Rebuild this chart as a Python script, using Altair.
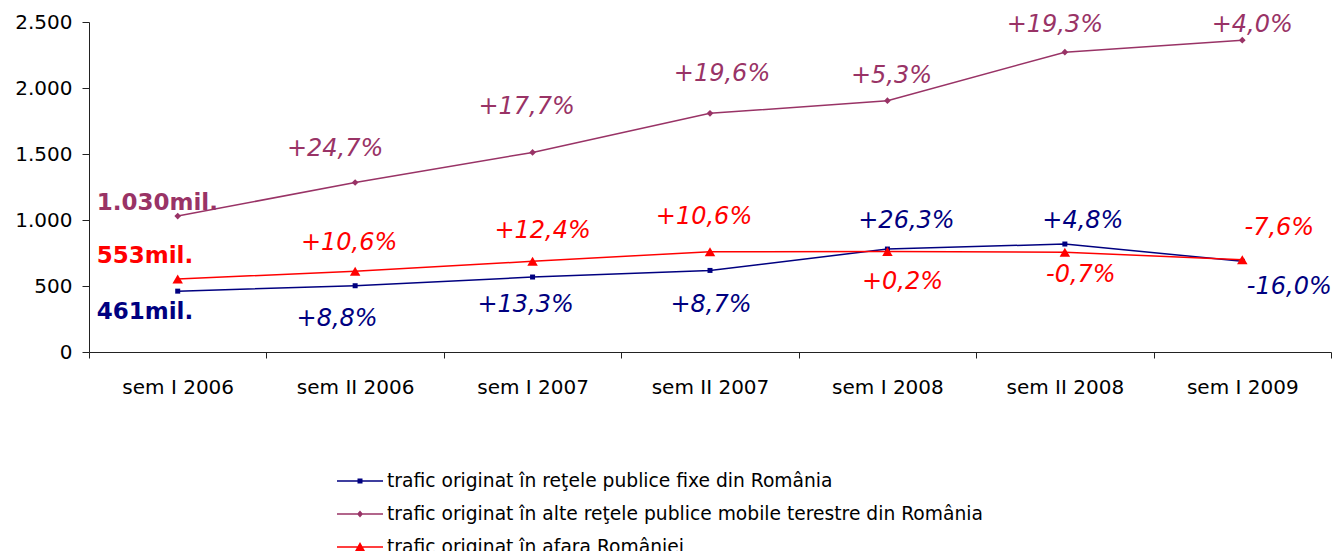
import altair as alt
import pandas as pd

# ---------------- data ----------------
periods = ["sem I 2006", "sem II 2006", "sem I 2007", "sem II 2007",
           "sem I 2008", "sem II 2008", "sem I 2009"]
series_names = [
    "trafic originat în reţele publice fixe din România",
    "trafic originat în alte reţele publice mobile terestre din România",
    "trafic originat în afara României",
]
fixed_values = [461, 502, 568, 618, 780, 818, 687]
mobile_values = [1030, 1284, 1512, 1808, 1904, 2271, 2362]
foreign_values = [553, 612, 687, 760, 761, 756, 699]
fixed_pct = ["", "+8,8%", "+13,3%", "+8,7%", "+26,3%", "+4,8%", "-16,0%"]
mobile_pct = ["", "+24,7%", "+17,7%", "+19,6%", "+5,3%", "+19,3%", "+4,0%"]
foreign_pct = ["", "+10,6%", "+12,4%", "+10,6%", "+0,2%", "-0,7%", "-7,6%"]
start_labels = ["461mil.", "1.030mil.", "553mil."]
y_ticks = [0, 500, 1000, 1500, 2000, 2500]

values_by_series = [fixed_values, mobile_values, foreign_values]
pct_by_series = [fixed_pct, mobile_pct, foreign_pct]

rows = []
for k, name in enumerate(series_names):
    for i, p in enumerate(periods):
        rows.append({"period": p, "series": name, "idx": i,
                     "value": values_by_series[k][i],
                     "pct": pct_by_series[k][i],
                     "start": start_labels[k]})
df = pd.DataFrame(rows)

# ---------------- styles ----------------
FONT = "DejaVu Sans"
COLORS = ["#000080", "#993366", "#FF0000"]
SHAPES = ["square", "diamond", "triangle-up"]
SIZES = [25, 45, 110]
LEGEND_PATHS = [
    "M-2.3,-0.075H2.3V0.075H-2.3Z M-0.25,-0.25H0.25V0.25H-0.25Z",
    "M-2.3,-0.075H2.3V0.075H-2.3Z M0,-0.35L0.3,0L0,0.35L-0.3,0Z",
    "M-2.3,-0.075H2.3V0.075H-2.3Z M0,-0.5L0.5,0.4L-0.5,0.4Z",
]
# pixel offsets (dx, dy) of the growth labels, per series, for idx 1..6
PCT_OFFSETS = [
    [(-18, 33), (-7, 28), (1, 35), (19, -28), (18, -23), (47, 26)],
    [(-20, -34), (-6, -45), (12, -39), (4, -25), (-10, -27), (10, -15)],
    [(-6, -28), (10, -30), (-6, -35), (15, 30), (16, 23), (37, -32)],
]
START_DY = [21, -13, -23]

x_enc = alt.X("period:N", sort=periods,
              scale=alt.Scale(type="band", domain=periods, paddingInner=0, paddingOuter=0),
              axis=alt.Axis(title=None, labelAngle=0, tickBand="extent", tickSize=6,
                            labelPadding=19, labelFontSize=20, labelFont=FONT,
                            labelColor="#000000", domainColor="#222222",
                            tickColor="#222222", grid=False))
y_enc = alt.Y("value:Q",
              scale=alt.Scale(domain=[0, 2500], nice=False),
              axis=alt.Axis(title=None, values=y_ticks,
                            labelExpr="replace(format(datum.value, ','), ',', '.')",
                            tickSize=7, labelPadding=10, labelFontSize=20,
                            labelFont=FONT, labelColor="#000000",
                            domainColor="#222222", tickColor="#222222", grid=False))

base = alt.Chart(df)
layers = []

for k, name in enumerate(series_names):
    layers.append(
        base.transform_filter(alt.datum.series == name)
        .mark_line(color=COLORS[k], strokeWidth=1.5,
                   point=alt.OverlayMarkDef(shape=SHAPES[k], filled=True,
                                            size=SIZES[k], color=COLORS[k], opacity=1))
        .encode(x=x_enc, y=y_enc)
    )

for k, name in enumerate(series_names):
    for i in range(1, len(periods)):
        dx, dy = PCT_OFFSETS[k][i - 1]
        layers.append(
            base.transform_filter((alt.datum.series == name) & (alt.datum.idx == i))
            .mark_text(dx=dx, dy=dy, align="center", baseline="middle",
                       font=FONT, fontSize=24, fontStyle="italic", color=COLORS[k])
            .encode(x=x_enc, y=y_enc, text="pct:N")
        )
    layers.append(
        base.transform_filter((alt.datum.series == name) & (alt.datum.idx == 0))
        .mark_text(dx=-81, dy=START_DY[k], align="left", baseline="middle",
                   font=FONT, fontSize=23, fontWeight="bold", color=COLORS[k])
        .encode(x=x_enc, y=y_enc, text="start:N")
    )

legend = alt.Legend(title=None, orient="none", legendX=261, legendY=449,
                    direction="vertical", labelFontSize=18.7, labelFont=FONT,
                    labelColor="#000000", labelOffset=17, rowPadding=13,
                    symbolSize=400, symbolStrokeWidth=0, padding=0, labelLimit=1000)
layers.append(
    base.transform_filter("false")
    .mark_point(filled=True, opacity=1, size=400)
    .encode(
        x=x_enc, y=y_enc,
        color=alt.Color("series:N", scale=alt.Scale(domain=series_names, range=COLORS), legend=legend),
        shape=alt.Shape("series:N", scale=alt.Scale(domain=series_names, range=LEGEND_PATHS), legend=legend),
    )
)

chart = alt.layer(*layers).properties(
    width=1242, height=330,
    autosize=alt.AutoSizeParams(type="none"),
    padding={"left": 81, "top": 14, "right": 3, "bottom": 212},
).configure(font=FONT).configure_view(strokeWidth=0)

chart.save("out.html", embed_options={"renderer": "svg", "actions": False})
